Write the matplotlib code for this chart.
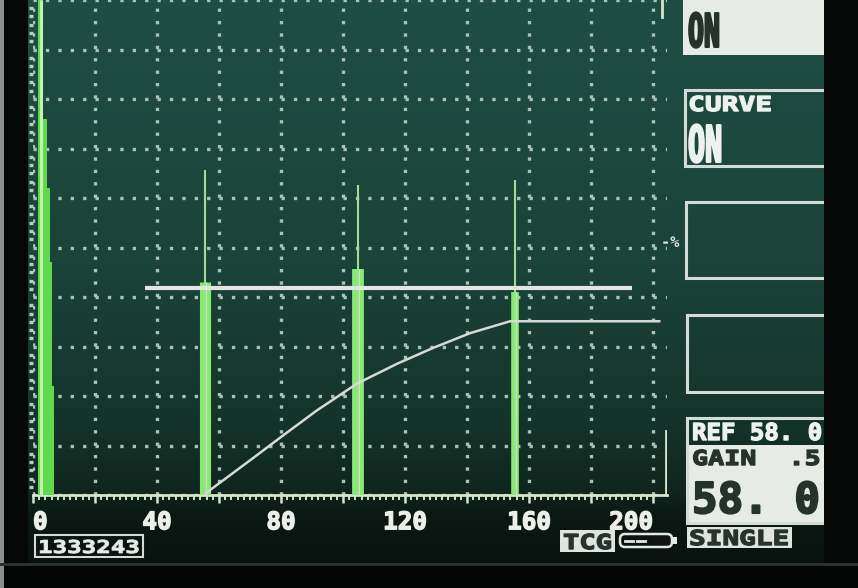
import numpy as np
from matplotlib import pyplot as plt
from matplotlib import patches, patheffects
from matplotlib.colors import LinearSegmentedColormap
from matplotlib.transforms import Affine2D

# --- values ---
# x: sound path (0-200), y: % of full screen height
pulse_left = 1.6
pulse_widths = [1.6, 2.9, 3.9, 4.5, 5.2]
pulse_heights = [100, 76, 62, 47, 22]

echo_x = [55.5, 104.8, 155.5]
echo_spike = [65.7, 62.7, 63.7]
echo_body = [43.0, 45.6, 41.0]

gate_start = 36.1
gate_end = 193.2
gate_level = 41.8

# TCG curve
curve_x = [55.5, 57.1, 70.0, 80.6, 91.6, 104.5, 117.4, 129.0, 141.0, 153.9, 202.0]
curve_y = [0.0, 1.0, 7.0, 12.0, 17.1, 22.5, 26.5, 29.7, 32.7, 35.1, 35.1]

x_ticks = [0, 20, 40, 60, 80, 100, 120, 140, 160, 180, 200]
x_labels = ['0', '', '40', '', '80', '', '120', '', '160', '', '200']

curve_state = 'ON'
ref_text = 'REF 58. 0'
gain_text = 'GAIN  .5'
gain_db = '58. 0'
mode_text = 'SINGLE'
serial_text = '1333243'

# colours
green = '#62d84c'
green_core = '#bdf6aa'
spike_col = '#a4d99c'
body_col = '#86ea6e'
white = '#dfe6df'
dots = '#a9c2b8'
panel = '#e6ebe6'
ink = '#26322c'
bezel = '#050807'


class Squeeze(patheffects.AbstractPathEffect):
    # stretch glyphs sideways and thicken them, the screen font is a bitmap font
    def __init__(self, sx=1.0, stroke=0.0):
        super().__init__()
        self.sx = sx
        self.stroke = stroke

    def draw_path(self, renderer, gc, tpath, affine, rgbFace=None):
        tr = Affine2D().scale(self.sx, 1.0) + affine
        if self.stroke > 0:
            gc0 = renderer.new_gc()
            gc0.copy_properties(gc)
            gc0.set_linewidth(self.stroke)
            gc0.set_foreground(rgbFace)
            renderer.draw_path(gc0, tpath, tr, rgbFace)
            gc0.restore()
        else:
            renderer.draw_path(gc, tpath, tr, rgbFace)


fig = plt.figure(figsize=(8.58, 5.88), dpi=100)

# background / screen in pixel coordinates (y down)
bg = fig.add_axes([0, 0, 1, 1])
bg.set_xlim(0, 858)
bg.set_ylim(588, 0)
bg.axis('off')
screen_cmap = LinearSegmentedColormap.from_list(
    'screen', [(0, '#1f4e44'), (0.45, '#1a4339'), (0.72, '#14342b'),
               (0.84, '#0f251d'), (0.88, '#0b1813'), (1, '#080f0c')])
bg.imshow(np.linspace(0, 1, 300)[:, None], extent=[0, 858, 588, 0],
          cmap=screen_cmap, aspect='auto', zorder=0)


def screen_text(x, y, s, size, sx, color, stroke=1.0):
    t = bg.text(x, y, s, fontsize=size, color=color, family='DejaVu Sans Mono',
                fontweight='bold', ha='left', va='baseline', zorder=5)
    t.set_path_effects([Squeeze(sx, stroke)])
    return t


def outline(x, y, w, h, lw=2.2):
    bg.add_patch(patches.Rectangle((x, y), w, h, fill=False, ec='#d3dcd4', lw=lw, zorder=4))


# right hand menu boxes
bg.add_patch(patches.Rectangle((683, -5), 150, 60, fc=panel, ec='none', zorder=3))
screen_text(688, 47, curve_state, 33.5, 0.57, ink, 1.5)
outline(685, 90, 150, 76)
screen_text(688, 111, 'CURVE', 14.8, 1.36, '#eef2ee')
screen_text(688, 162, curve_state, 36.5, 0.56, '#eef2ee', 1.5)
outline(686, 202, 150, 76)
screen_text(661, 247, '-%', 11, 1.0, '#dfe6df', 0)
outline(687, 315, 150, 77)
outline(687, 418, 150, 105)
screen_text(692, 440, ref_text, 16.8, 1.03, '#eef2ee')
bg.add_patch(patches.Rectangle((687, 445), 150, 78, fc=panel, ec='none', zorder=3))
screen_text(692, 465, gain_text, 14.8, 1.3, ink)
screen_text(692, 513, gain_db, 30.6, 1.0, ink, 1.5)

# bottom status line
bg.add_patch(patches.Rectangle((687, 527), 105, 21, fc='#dfe4df', ec='none', zorder=3))
screen_text(689, 545, mode_text, 14.8, 1.35, ink)
bg.add_patch(patches.Rectangle((560, 530), 55, 22, fc='#dfe4df', ec='none', zorder=3))
screen_text(563, 549, 'TCG', 14.8, 1.32, ink)
bg.add_patch(patches.FancyBboxPatch((620, 534), 52, 13, boxstyle='round,pad=0,rounding_size=5',
                                    fill=False, ec='#e4e8e4', lw=1.8, zorder=4))
bg.add_patch(patches.Rectangle((672, 537), 5, 7, fc='#e4e8e4', ec='none', zorder=4))
bg.add_patch(patches.Rectangle((652, 536.5), 18, 8, fc='#101412', ec='none', zorder=5))
for x0 in [625, 637]:
    bg.plot([x0, x0 + 8], [540.5, 540.5], color='#e4e8e4', lw=2, zorder=5)
outline(35, 535, 108, 22, lw=1.5)
screen_text(38, 553, serial_text, 12.8, 1.36, '#e8ece8', 0.6)

# bezel of the instrument
bg.add_patch(patches.Rectangle((0, 0), 28, 588, fc=bezel, ec='none', zorder=10))
bg.add_patch(patches.Rectangle((0, 0), 4, 588, fc='#8a8f8c', ec='none', zorder=11))
bg.add_patch(patches.Rectangle((824, 0), 40, 588, fc=bezel, ec='none', zorder=10))
bg.add_patch(patches.Rectangle((0, 563), 858, 30, fc='#040605', ec='none', zorder=10))
bg.add_patch(patches.Rectangle((0, 563), 858, 3, fc='#2c322f', ec='none', zorder=11))

# --- A-scan display ---
ax = fig.add_axes([33 / 858, 93 / 588, 634 / 858, 495 / 588])
ax.set_facecolor('none')
ax.set_xlim(0, 204.5)
ax.set_ylim(0, 99.4)

ax.set_xticks(x_ticks)
ax.set_xticklabels(x_labels)
ax.set_xticks(np.arange(0, 201, 2), minor=True)
ax.set_yticks(np.arange(0, 101, 10))
ax.set_yticks(np.arange(0, 100, 10 / 6), minor=True)
ax.set_yticklabels([])
ax.tick_params(axis='x', which='major', direction='out', length=6, width=1.8,
               color='#d6e4cc', pad=5, labelsize=17.5, labelcolor='#eceeea')
ax.tick_params(axis='x', which='minor', direction='out', length=3.5, width=1.4, color='#d6e4cc')
ax.tick_params(axis='y', which='major', length=0)
ax.tick_params(axis='y', which='minor', direction='out', length=3, width=2.4, color='#b9cbc3')
for lab in ax.get_xticklabels():
    lab.set_family('DejaVu Sans Mono')
    lab.set_fontweight('bold')
    lab.set_path_effects([patheffects.withStroke(linewidth=1.0, foreground='#eceeea')])
ax.get_xticklabels()[0].set_ha('left')
ax.get_xticklabels()[-1].set_ha('right')

for side in ['top', 'right', 'left']:
    ax.spines[side].set_visible(False)
ax.spines['bottom'].set_color('#d6e4cc')
ax.spines['bottom'].set_linewidth(2)

ax.grid(which='major', color=dots, lw=2.4, linestyle=(0, (1.0, 2.72)))
ax.set_axisbelow(True)

# right border pieces
ax.axvline(204.2, ymin=0, ymax=0.13, color='#d6e4cc', lw=2)
ax.axvline(202.9, ymin=0.965, ymax=1, color='#d6e4cc', lw=2)

# initial pulse
ax.bar([pulse_left] * len(pulse_heights), pulse_heights, width=pulse_widths,
       align='edge', color=green, zorder=3)
ax.vlines(2.7, 0, 100, color=green_core, lw=2.2, zorder=3)

# echoes: wide body and narrow spike
for x, top, lw in zip(echo_x, echo_body, [8.0, 8.5, 5.5]):
    ax.vlines(x, 0, top, color=body_col, lw=lw, zorder=3)
    ax.vlines(x, 0, top, color='#c2f3b4', lw=2.0, zorder=3)
ax.vlines(echo_x, 0, echo_spike, color=spike_col, lw=1.5, zorder=3)

# gate and TCG curve
ax.hlines(gate_level, gate_start, gate_end, color=white, lw=3, zorder=4)
ax.plot(curve_x, curve_y, color='#d5dad5', lw=1.8, zorder=4)

fig.savefig('out.png', dpi=100)
